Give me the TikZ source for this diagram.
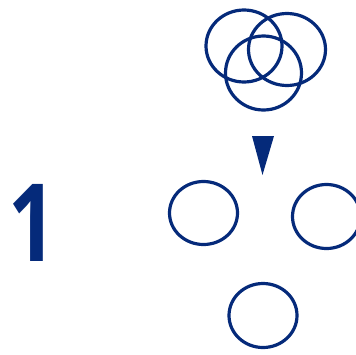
\documentclass[tikz,border=0pt]{standalone}
\usepackage{fontspec}
\setmainfont{Open Sans}
\definecolor{navy}{RGB}{5,42,122}
\begin{document}
\begin{tikzpicture}[x=1pt,y=-1pt,
  ring/.style={draw=navy,line width=3.2pt},
  digit/.style={text=navy,font=\fontsize{108}{108}\selectfont\bfseries,inner sep=0pt,anchor=base west,xscale=0.78}]
\useasboundingbox (0,0) rectangle (356,354);
\draw[ring] (244,46) ellipse [x radius=38,y radius=36] coordinate (ca);
\draw[ring] (287,49.5) ellipse [x radius=38.5,y radius=36] coordinate (cb);
\draw[ring] (263.5,73) ellipse [x radius=38,y radius=37] coordinate (cc);
\fill[navy] (252,136) coordinate (t1) -- (274,136) coordinate (t2) -- (262.5,175) coordinate (t3) -- cycle;
\draw[ring] (203.5,213) ellipse [x radius=34,y radius=31.5] coordinate (l);
\draw[ring] (326.5,216.5) ellipse [x radius=34,y radius=32] coordinate (r);
\draw[ring] (263,315.5) ellipse [x radius=34,y radius=32] coordinate (b);
\node[digit] (one) at (8,261) {1};
\end{tikzpicture}
\end{document}
